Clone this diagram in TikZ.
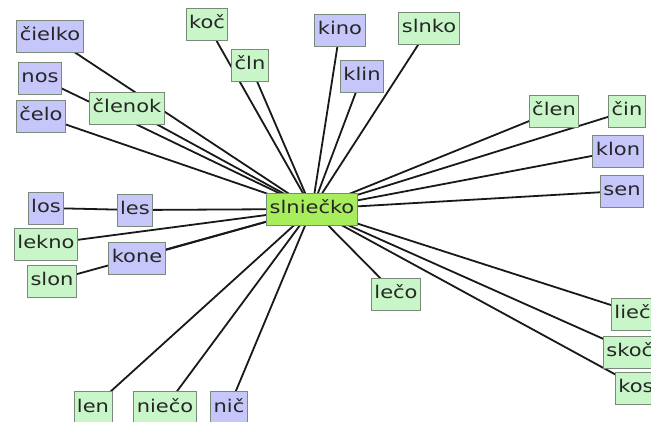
\documentclass[tikz,border=0pt]{standalone}
\usepackage{fontspec}
\newfontfamily\wfont[FakeStretch=1.2]{DejaVu Sans}
\usetikzlibrary{backgrounds}
\definecolor{bluefill}{HTML}{C6C6FA}
\definecolor{greenfill}{HTML}{C8F6C8}
\definecolor{limefill}{HTML}{A8EE5C}
\definecolor{boxline}{HTML}{7A8A7A}
\begin{document}
\begin{tikzpicture}[x=1pt,y=-1pt,
  word/.style={draw=boxline,line width=0.9pt,font=\wfont\fontsize{17.5}{19}\selectfont,text=black!85,
    inner xsep=3pt,inner ysep=0pt,minimum height=32pt,text height=13pt,text depth=3.5pt},
  bw/.style={word,fill=bluefill},
  gw/.style={word,fill=greenfill},
  cw/.style={word,fill=limefill},
  link/.style={line width=1.8pt,black!90}]
\useasboundingbox (0,0) rectangle (651,421);
\clip (0,0) rectangle (651,421);
\node[cw] (c) at (312,209) {slniečko};
\node[bw] (cielko) at (50,36) {čielko};
\node[bw] (nos) at (40,78) {nos};
\node[bw] (celo) at (41,116) {čelo};
\node[gw] (clenok) at (127,108) {členok};
\node[gw] (koc) at (207,24) {koč};
\node[gw] (cln) at (250,65) {čln};
\node[bw] (kino) at (340,30) {kino};
\node[bw] (klin) at (362,76) {klin};
\node[gw] (slnko) at (429,28) {slnko};
\node[gw] (clen) at (554,111) {člen};
\node[gw] (cin) at (627,111) {čin};
\node[bw] (klon) at (618,151) {klon};
\node[bw] (sen) at (622,191) {sen};
\node[bw] (los) at (46,208) {los};
\node[bw] (les) at (135,210) {les};
\node[gw] (lekno) at (46,244) {lekno};
\node[bw] (kone) at (137,258) {kone};
\node[gw] (slon) at (52,281) {slon};
\node[gw] (leco) at (396,294) {lečo};
\node[gw,anchor=west] (lieco) at (611,314) {liečo};
\node[gw,anchor=west] (skoci) at (603,352) {skočí};
\node[gw,anchor=west] (kos) at (615,388) {kosť};
\node[gw,anchor=north] (len) at (93,391) {len};
\node[gw,anchor=north] (nieco) at (165,391) {niečo};
\node[bw,anchor=north] (nic) at (229,391) {nič};
\begin{scope}[on background layer]
\fill[white] (0,0) rectangle (651,421);
\foreach \n in {cielko,nos,celo,clenok,koc,cln,kino,klin,slnko,clen,cin,klon,sen,les,lekno,kone,slon,leco,lieco,skoci,kos,len,nieco,nic}
  \draw[link] (c.center) -- (\n.center);
\draw[link] (los.center) -- (les.center);
\end{scope}
\end{tikzpicture}
\end{document}
